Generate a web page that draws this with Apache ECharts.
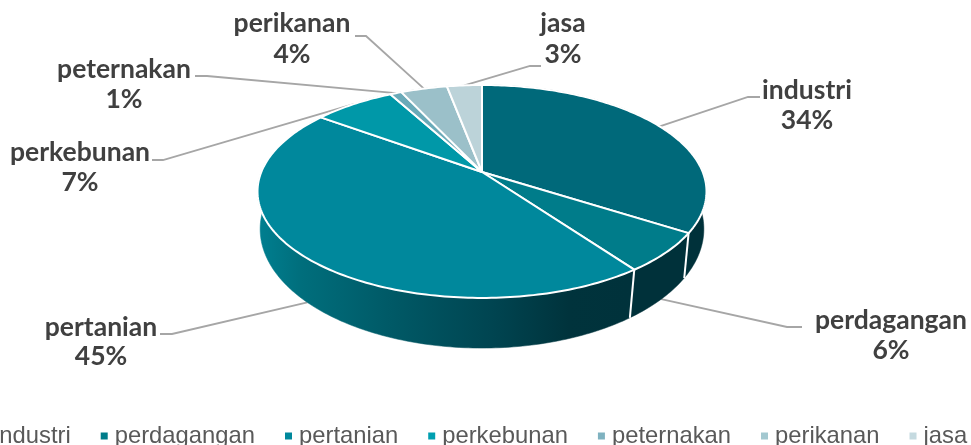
<!DOCTYPE html>
<html><head><meta charset="utf-8">
<style>html,body{margin:0;padding:0;background:#fff;overflow:hidden}#c{width:971px;height:445px}</style>
<script src="https://cdn.jsdelivr.net/npm/echarts@6/dist/echarts.min.js"></script>
</head><body><div id="c"></div>
<script>
var categories = ['industri','perdagangan','pertanian','perkebunan','peternakan','perikanan','jasa'];
var values = [34,6,45,7,1,4,3];
var topColors = ['#00697a','#007c8a','#00889c','#0098a8','#6aaab8','#9bc0c9','#bcd3d9'];
var legendColors = ['#00697a','#007c8a','#00889c','#009fb0','#7fb2c0','#a3c8d0','#c5dae0'];

// Perspective model of the disc, fitted to the picture
var CX = 482;
var TOP = {cy:172, R:220.7, B:102.9, p:0.183};
var BOT = {cy:210, R:219, B:116, p:0.16};
// Label layout: [text centre x, name y, percent y, elbow x, elbow y, line end x]
var labelLayout = [
  [807, 90, 120, 748, 97, 760],
  [891, 320, 350, 787, 327, 802],
  [101, 327, 356, 172, 334, 160],
  [80, 152, 182, 163, 160, 152],
  [124, 69, 99, 207, 76, 195],
  [292, 23, 54, 366, 36, 355],
  [563, 23, 54, 530, 66, 541]
];
var wallStops = [
  [0,'#007f90'],[0.1,'#006e7c'],[0.3,'#005a67'],[0.55,'#004450'],[0.72,'#00333c'],[1,'#00313a']
];
var total = values.reduce(function(a,b){return a+b;},0);
function proj(pl, deg){
  var t = deg*Math.PI/180, u = Math.sin(t), v = -Math.cos(t), s = 1/(1-pl.p*v);
  return [CX+pl.R*u*s, pl.cy+pl.B*v*s];
}
function arc(pl,a,b){
  var pts=[], n=Math.max(2,Math.ceil((b-a)/1));
  for(var i=0;i<=n;i++) pts.push(proj(pl,a+(b-a)*i/n));
  return pts;
}
function makeRender(idx){
  return function(params, api){
    var before = values.slice(0,idx).reduce(function(a,b){return a+b;},0);
    var a = before/total*360, b = a + api.value(0)/total*360, mid=(a+b)/2;
    var ch = [];
    var topArc = arc(TOP,a,b), botArc = arc(BOT,a,b);
    var wallPts = topArc.concat(botArc.slice().reverse());
    var fill = idx===2 ? {type:'linear',x:258,y:0,x2:690,y2:0,global:true,
        colorStops:wallStops.map(function(s){return {offset:s[0],color:s[1]};})} : '#00313a';
    ch.push({type:'polygon',z2:2,shape:{points:wallPts},style:{fill:fill,stroke:fill,lineWidth:0.5}});
    if(-Math.cos(b*Math.PI/180)>0 && b<360){
      ch.push({type:'line',z2:3,shape:{x1:proj(TOP,b)[0],y1:proj(TOP,b)[1],x2:proj(BOT,b)[0],y2:proj(BOT,b)[1]},
        style:{stroke:'#fff',lineWidth:2}});
    }
    ch.push({type:'polygon',z2:4,shape:{points:[[CX,TOP.cy]].concat(topArc)},
      style:{fill:topColors[idx],stroke:'#fff',lineWidth:2,lineJoin:'round'}});
    var L = labelLayout[idx];
    var anchor = proj(-Math.cos(mid*Math.PI/180)>0?BOT:TOP, mid);
    ch.push({type:'polyline',z2:1,shape:{points:[anchor,[L[3],L[4]],[L[5],L[4]]]},
      style:{stroke:'#a6a6a6',lineWidth:1.8,fill:null}});
    var font = 'bold 26.5px Lato';
    ch.push({type:'text',z2:5,style:{x:L[0],y:L[1],text:categories[idx],font:font,fill:'#404040',align:'center',verticalAlign:'middle'}});
    ch.push({type:'text',z2:5,style:{x:L[0],y:L[2],text:api.value(0)+'%',font:font,fill:'#404040',align:'center',verticalAlign:'middle'}});
    return {type:'group',children:ch};
  };
}
var chart = echarts.init(document.getElementById('c'),null,{renderer:'canvas'});
chart.setOption({
  animation:false,
  backgroundColor:'#fff',
  legend:{
    data:categories, left:-25, top:419, width:1200, icon:'rect', itemWidth:7, itemHeight:7, itemGap:30,
    textStyle:{fontFamily:'Liberation Sans',fontSize:23.8,color:'#595959',padding:[0,0,0,2]}
  },
  series:categories.map(function(name,i){
    return {type:'custom',name:name,coordinateSystem:'none',silent:true,
      itemStyle:{color:legendColors[i]},
      data:[[values[i]]],renderItem:makeRender(i)};
  })
});
</script></body></html>
